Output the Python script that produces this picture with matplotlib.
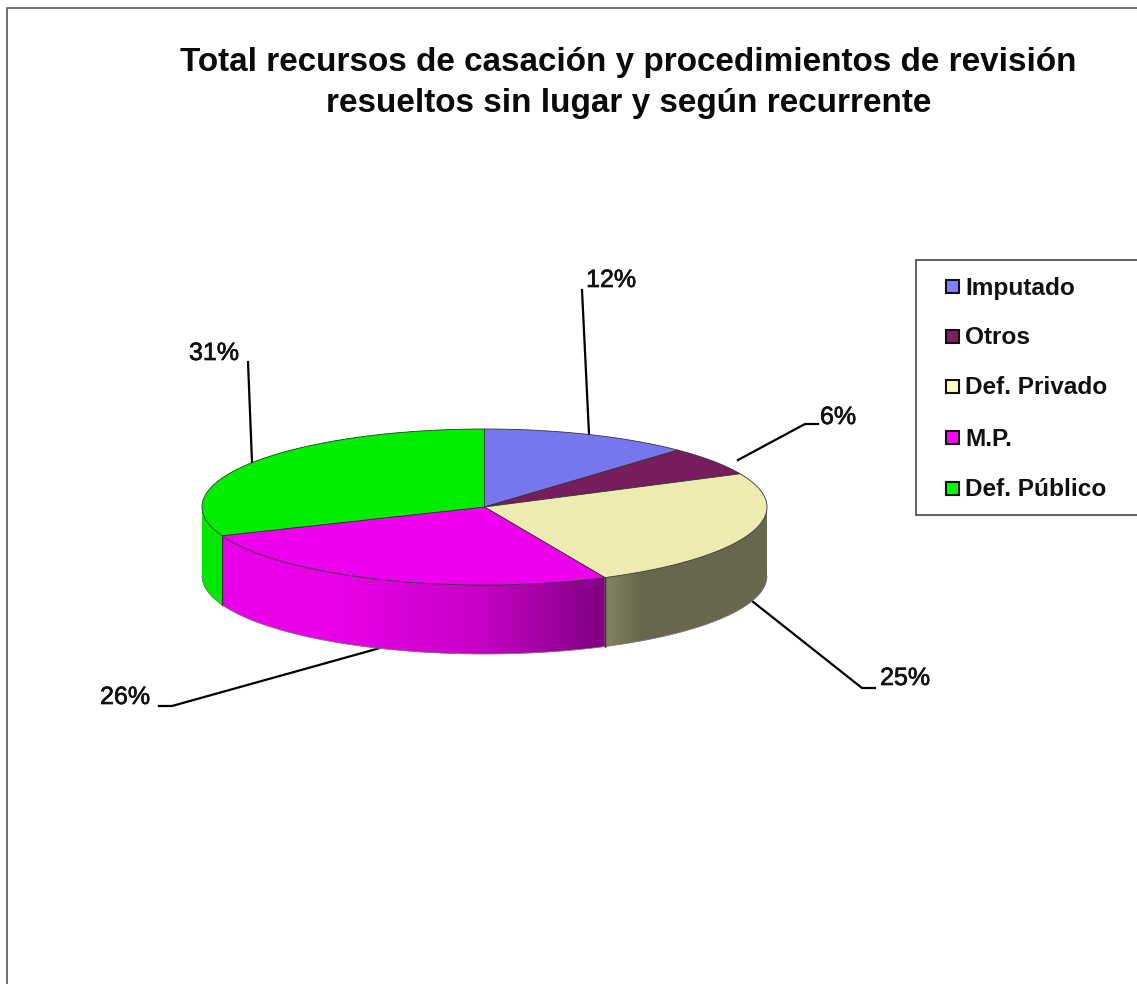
import numpy as np
import matplotlib
matplotlib.use('Agg')
import matplotlib.pyplot as plt
import matplotlib.patheffects as pe
from matplotlib.patches import Rectangle, Polygon

plt.rcParams['font.family'] = ['Liberation Sans', 'DejaVu Sans']

# Datos
titulo = 'Total recursos de casación y procedimientos de revisión\nresueltos sin lugar y según recurrente'
categorias = ['Imputado', 'Otros', 'Def. Privado', 'M.P.', 'Def. Público']
valores = [12, 6, 25, 26, 31]
colores = [(128, 128, 255), (128, 30, 100), (255, 253, 190), (255, 0, 255), (0, 255, 0)]

# Geometria del pastel en pixeles
cx, cy, rx, ry, alto = 484.5, 507, 282.5, 78, 69
brillo_tapa = 0.93

# Sombra del lateral segun x
sombra_x = [340, 480, 605, 612, 640, 1137]
sombra_v = [0.91, 0.78, 0.50, 0.50, 0.41, 0.41]

# Lineas guia y etiquetas: (x linea, y linea, x texto, y texto)
guias = [
    ([589, 582], [434, 290], 611, 279),
    ([738, 805, 818], [460, 424, 424], 838, 416),
    ([752, 862, 875], [601, 688, 688], 905, 677),
    ([380, 172, 159], [648, 706, 706], 125, 696),
    ([252, 248], [462, 362], 214, 352),
]
legend_y = [287, 337, 387, 438, 489]


def elipse(grados, dy=0):
    t = np.radians(grados)
    return cx + rx * np.sin(t), cy - ry * np.cos(t) + dy


def rgb(color, factor=1.0):
    return tuple(c / 255 * factor for c in color)


fig = plt.figure(figsize=(11.37, 9.84), dpi=100)
ax = fig.add_axes([0, 0, 1, 1])
ax.set_xlim(0, 1137)
ax.set_ylim(984, 0)
ax.axis('off')

# Marco
ax.plot([6.5, 6.5, 1137], [984, 7.5, 7.5], color='#555555', lw=1.2)

# Titulo
ax.text(628.5, 83, titulo, ha='center', va='center', fontsize=23.95, fontweight='bold',
        color='#0a0a0a', linespacing=1.44)

# Lineas guia
for xs, ys, tx, ty in guias:
    ax.plot(xs, ys, color='black', lw=1.6, zorder=1)

limites = np.cumsum([0] + valores) * 3.6

# Lateral: degradado recortado a la forma de cada porcion
for i, color in enumerate(colores):
    a = max(limites[i], 90)
    b = min(limites[i + 1], 270)
    if b <= a:
        continue
    g = np.linspace(a, b, 200)
    xa, ya = elipse(g)
    yb = ya + alto
    forma = Polygon(np.c_[np.r_[xa, xa[::-1]], np.r_[ya, yb[::-1]]], closed=True,
                    transform=ax.transData, facecolor='none', edgecolor='none')
    ax.add_patch(forma)
    x0, x1 = xa.min(), xa.max()
    columnas = np.linspace(x0, x1, 400)
    f = np.interp(columnas, sombra_x, sombra_v)
    img = np.outer(f, np.array(rgb(color))).reshape(1, -1, 3)
    im = ax.imshow(img, extent=[x0, x1, ya.max() + alto, ya.min()], aspect='auto',
                   interpolation='bilinear', zorder=2)
    im.set_clip_path(forma)

# imshow cambia los limites
ax.set_xlim(0, 1137)
ax.set_ylim(984, 0)

# Contorno del lateral
g = np.linspace(90, 270, 300)
xb, yb = elipse(g, alto)
ax.plot(xb, yb, color='#777777', lw=0.6, zorder=3)
for lim in limites[1:-1]:
    if 90 < lim < 270:
        x0, y0 = elipse(lim)
        ax.plot([x0, x0], [y0, y0 + alto], color='#333333', lw=1.0, zorder=3)

# Tapa
for i, color in enumerate(colores):
    g = np.linspace(limites[i], limites[i + 1], 120)
    x, y = elipse(g)
    ax.fill(np.r_[cx, x], np.r_[cy, y], facecolor=rgb(color, brillo_tapa),
            edgecolor='#333333', lw=0.6, zorder=4)

# Etiquetas de porcentaje
grueso = [pe.withStroke(linewidth=0.5, foreground='#111111')]
for (xs, ys, tx, ty), v in zip(guias, valores):
    ax.text(tx, ty + 1, '{}%'.format(v), ha='center', va='center', fontsize=18,
            color='#111111', zorder=5, path_effects=grueso)

# Leyenda
ax.add_patch(Rectangle((916, 259.5), 240, 255, facecolor='white', edgecolor='#444444', lw=1.2, zorder=5))
for nombre, color, y in zip(categorias, colores, legend_y):
    ax.add_patch(Rectangle((946, y - 7), 13, 13, facecolor=rgb(color), edgecolor='#111111', lw=1.5, zorder=6))
    ax.text(965, y + 1, nombre, ha='left', va='center', fontsize=17.6, fontweight='bold',
            color='#111111', zorder=6)

fig.savefig('out.png', dpi=100)
